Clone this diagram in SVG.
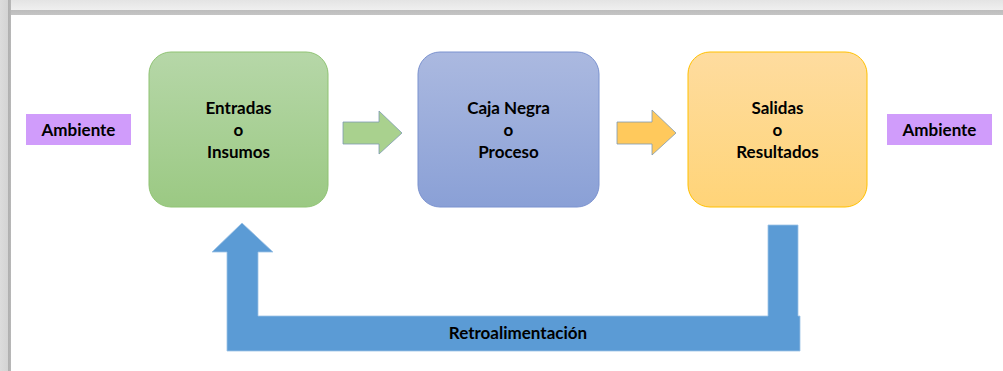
<svg xmlns="http://www.w3.org/2000/svg" width="1003" height="371" viewBox="0 0 1003 371">
<style>
.t{font-family:Lato,"Liberation Sans",sans-serif;font-weight:bold;font-size:17px;fill:#000;text-anchor:middle}
.amb{fill:#d09cfb}
.fb{fill:#5b9bd5;stroke:#9dc3e6;stroke-width:0.8}
</style>
<defs>
<linearGradient id="gG" x1="0" y1="0" x2="0" y2="1"><stop offset="0" stop-color="#b6d7a8"/><stop offset="1" stop-color="#9bc983"/></linearGradient>
<linearGradient id="gB" x1="0" y1="0" x2="0" y2="1"><stop offset="0" stop-color="#abb9e0"/><stop offset="1" stop-color="#8aa0d6"/></linearGradient>
<linearGradient id="gO" x1="0" y1="0" x2="0" y2="1"><stop offset="0" stop-color="#fedc9f"/><stop offset="1" stop-color="#ffd478"/></linearGradient>
<linearGradient id="frT" x1="0" y1="0" x2="0" y2="1"><stop offset="0" stop-color="#e4e4e4"/><stop offset="0.65" stop-color="#efefef"/><stop offset="0.67" stop-color="#bdbdbd"/><stop offset="1" stop-color="#c4c4c4"/></linearGradient>
<linearGradient id="frL" x1="0" y1="0" x2="1" y2="0"><stop offset="0" stop-color="#dcdcdc"/><stop offset="0.7" stop-color="#d4d4d4"/><stop offset="0.75" stop-color="#b0b0b0"/><stop offset="1" stop-color="#b8b8b8"/></linearGradient>
</defs>
<rect width="1003" height="371" fill="#fff"/>
<g id="frame">
<rect x="0" y="0" width="1003" height="15" fill="url(#frT)"/>
<rect x="0" y="0" width="11" height="371" fill="url(#frL)"/>
</g>
<g id="connectors">
<polygon points="343,122 379,122 379,111 402,133 379,154 379,144 343,144" fill="#a9d18e" stroke="#7f9bb3" stroke-width="0.8"/>
<polygon points="617,122 652,122 652,110 676,133 652,155 652,144 617,144" fill="#ffc95c" stroke="#7f9bb3" stroke-width="0.8"/>
<polygon class="fb" points="768,225 798,225 798,316 800,316 800,351 227,351 227,252 212,252 242,223 273,252 258,252 258,316 768,316"/>
<text class="t" x="518" y="339">Retroalimentación</text>
</g>
<g id="amb-left">
<rect class="amb" x="26" y="114" width="105" height="31"/>
<text class="t" x="78.5" y="136">Ambiente</text>
</g>
<g id="entradas">
<rect x="149" y="52" width="179" height="155" rx="22" fill="url(#gG)" stroke="#8fc373" stroke-width="1"/>
<text class="t" x="238.5" y="114">Entradas</text>
<text class="t" x="238.5" y="136">o</text>
<text class="t" x="238.5" y="158">Insumos</text>
</g>
<g id="proceso">
<rect x="418" y="52" width="181" height="155" rx="22" fill="url(#gB)" stroke="#7b92cf" stroke-width="1"/>
<text class="t" x="508.5" y="114">Caja Negra</text>
<text class="t" x="508.5" y="136">o</text>
<text class="t" x="508.5" y="158">Proceso</text>
</g>
<g id="salidas">
<rect x="688" y="52" width="179" height="155" rx="22" fill="url(#gO)" stroke="#ffc000" stroke-width="1"/>
<text class="t" x="777.5" y="114">Salidas</text>
<text class="t" x="777.5" y="136">o</text>
<text class="t" x="777.5" y="158">Resultados</text>
</g>
<g id="amb-right">
<rect class="amb" x="887" y="114" width="105" height="31"/>
<text class="t" x="939.5" y="136">Ambiente</text>
</g>
</svg>
